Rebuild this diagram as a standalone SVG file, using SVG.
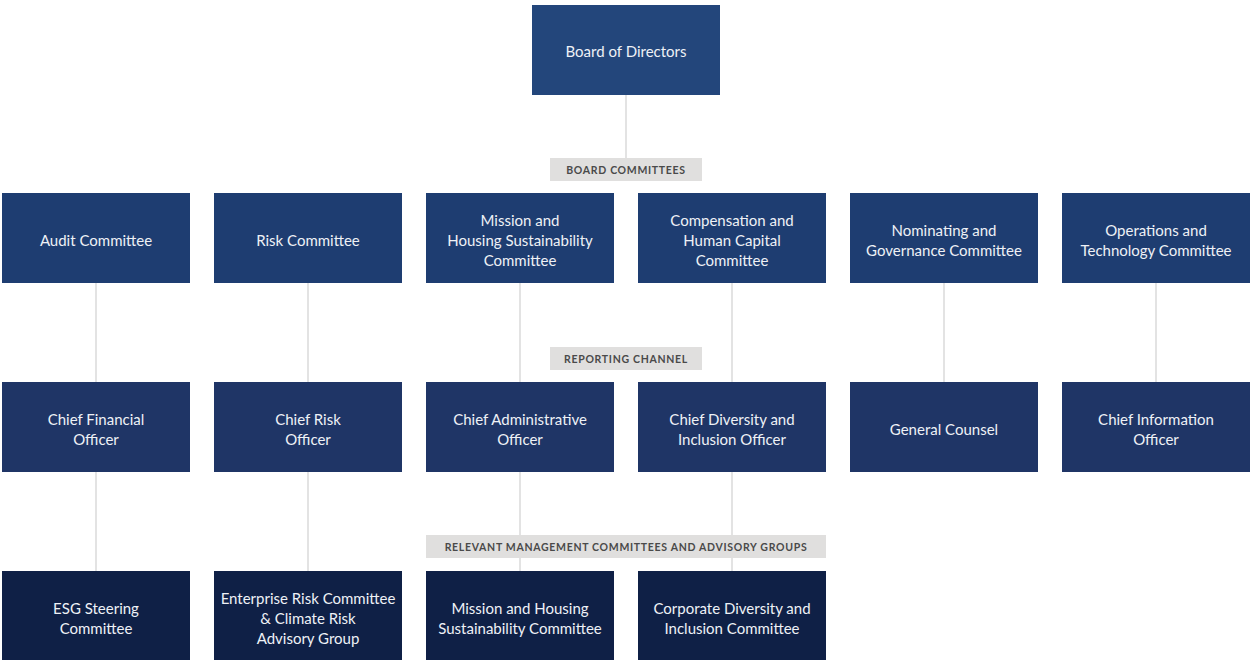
<svg xmlns="http://www.w3.org/2000/svg" width="1250" height="661" viewBox="0 0 1250 661">
<style>
.n text{font-family:Lato,"Open Sans","Liberation Sans",sans-serif;font-size:15px;fill:#eef1f6;text-anchor:middle}
.b0{fill:#23467b}
.b1{fill:#1e3d71}
.b2{fill:#1f3566}
.b3{fill:#0f2046}
.lbl rect{fill:#e0dfde}
.lbl text{font-family:Lato,"Open Sans","Liberation Sans",sans-serif;font-size:10.5px;font-weight:bold;letter-spacing:0.7px;fill:#4a4a4a;text-anchor:middle}
.c line{stroke:#e3e3e3;stroke-width:2}
</style>
<rect width="1250" height="661" fill="#ffffff"/>
<g class="c" id="connectors">
<line x1="626" y1="94" x2="626" y2="158"/>
<line x1="96" y1="283" x2="96" y2="382"/>
<line x1="308" y1="283" x2="308" y2="382"/>
<line x1="520" y1="283" x2="520" y2="382"/>
<line x1="732" y1="283" x2="732" y2="382"/>
<line x1="944" y1="283" x2="944" y2="382"/>
<line x1="1156" y1="283" x2="1156" y2="382"/>
<line x1="96" y1="471" x2="96" y2="571"/>
<line x1="308" y1="471" x2="308" y2="571"/>
<line x1="520" y1="471" x2="520" y2="571"/>
<line x1="732" y1="471" x2="732" y2="571"/>
</g>
<g class="lbl" id="label-board-committees"><rect x="550" y="158" width="152" height="23"/><text x="626" y="174">BOARD COMMITTEES</text></g>
<g class="lbl" id="label-reporting-channel"><rect x="550" y="347" width="152" height="23"/><text x="626" y="363">REPORTING CHANNEL</text></g>
<g class="lbl" id="label-relevant"><rect x="426" y="535" width="400" height="23"/><text x="626" y="551">RELEVANT MANAGEMENT COMMITTEES AND ADVISORY GROUPS</text></g>

<g class="n" id="board"><rect class="b0" x="532" y="5" width="188" height="90"/><text x="626" y="57">Board of Directors</text></g>

<g class="n" id="audit"><rect class="b1" x="2" y="193" width="188" height="90"/><text x="96" y="246">Audit Committee</text></g>
<g class="n" id="risk"><rect class="b1" x="214" y="193" width="188" height="90"/><text x="308" y="246">Risk Committee</text></g>
<g class="n" id="mission"><rect class="b1" x="426" y="193" width="188" height="90"/><text x="520" y="226">Mission and</text><text x="520" y="246">Housing Sustainability</text><text x="520" y="266">Committee</text></g>
<g class="n" id="compensation"><rect class="b1" x="638" y="193" width="188" height="90"/><text x="732" y="226">Compensation and</text><text x="732" y="246">Human Capital</text><text x="732" y="266">Committee</text></g>
<g class="n" id="nominating"><rect class="b1" x="850" y="193" width="188" height="90"/><text x="944" y="236">Nominating and</text><text x="944" y="256">Governance Committee</text></g>
<g class="n" id="operations"><rect class="b1" x="1062" y="193" width="188" height="90"/><text x="1156" y="236">Operations and</text><text x="1156" y="256">Technology Committee</text></g>

<g class="n" id="cfo"><rect class="b2" x="2" y="382" width="188" height="90"/><text x="96" y="425">Chief Financial</text><text x="96" y="445">Officer</text></g>
<g class="n" id="cro"><rect class="b2" x="214" y="382" width="188" height="90"/><text x="308" y="425">Chief Risk</text><text x="308" y="445">Officer</text></g>
<g class="n" id="cao"><rect class="b2" x="426" y="382" width="188" height="90"/><text x="520" y="425">Chief Administrative</text><text x="520" y="445">Officer</text></g>
<g class="n" id="cdio"><rect class="b2" x="638" y="382" width="188" height="90"/><text x="732" y="425">Chief Diversity and</text><text x="732" y="445">Inclusion Officer</text></g>
<g class="n" id="gc"><rect class="b2" x="850" y="382" width="188" height="90"/><text x="944" y="435">General Counsel</text></g>
<g class="n" id="cio"><rect class="b2" x="1062" y="382" width="188" height="90"/><text x="1156" y="425">Chief Information</text><text x="1156" y="445">Officer</text></g>

<g class="n" id="esg"><rect class="b3" x="2" y="571" width="188" height="89"/><text x="96" y="614">ESG Steering</text><text x="96" y="634">Committee</text></g>
<g class="n" id="erc"><rect class="b3" x="214" y="571" width="188" height="89"/><text x="308" y="604">Enterprise Risk Committee</text><text x="308" y="624">&amp; Climate Risk</text><text x="308" y="644">Advisory Group</text></g>
<g class="n" id="mhsc"><rect class="b3" x="426" y="571" width="188" height="89"/><text x="520" y="614">Mission and Housing</text><text x="520" y="634">Sustainability Committee</text></g>
<g class="n" id="cdic"><rect class="b3" x="638" y="571" width="188" height="89"/><text x="732" y="614">Corporate Diversity and</text><text x="732" y="634">Inclusion Committee</text></g>
</svg>
